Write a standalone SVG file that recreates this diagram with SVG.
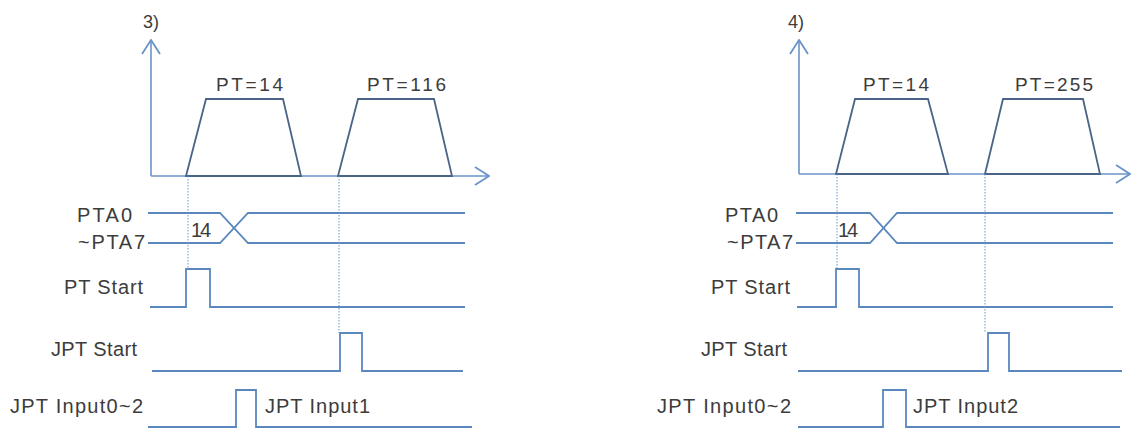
<svg xmlns="http://www.w3.org/2000/svg" width="1131" height="430" viewBox="0 0 1131 430">
<style>
text{font-family:"Liberation Sans",Arial,sans-serif;fill:#3c3c3c}
.lbl{font-size:20px}
.pt{font-size:19px}
.num{font-size:18px}
.sig{fill:none;stroke:#5b87bf;stroke-width:1.8}
.ax{fill:none;stroke:#6a94c8;stroke-width:1.6}
.trap{fill:none;stroke:#4a6488;stroke-width:1.8}
.dot{fill:none;stroke:#6a94c8;stroke-width:1;stroke-dasharray:1.5 1.5}
</style>
<defs>
<marker id="arr" viewBox="0 0 16 20" refX="15" refY="10" markerWidth="16" markerHeight="20" markerUnits="userSpaceOnUse" orient="auto">
<path d="M1,1 L15,10 L1,19" fill="none" stroke="#6a94c8" stroke-width="1.8"/>
</marker>
</defs>
<g id="diagram3">
<g id="axes3">
<text class="num" x="143" y="28">3)</text>
<line class="ax" x1="151" y1="176" x2="151" y2="40" marker-end="url(#arr)"/>
<line class="ax" x1="151" y1="176" x2="489" y2="176" marker-end="url(#arr)"/>
</g>
<g id="pt14-a">
<path class="trap" d="M186,176 L206,99 L283,99 L301,176 Z"/>
<text class="pt" x="216" y="91" textLength="67">PT=14</text>
</g>
<g id="pt116">
<path class="trap" d="M338,176 L358,99 L434,99 L452,176 Z"/>
<text class="pt" x="367" y="91" textLength="79">PT=116</text>
</g>
<g id="pta3">
<text class="lbl" x="77" y="222" textLength="55">PTA0</text>
<text class="lbl" x="78" y="249" textLength="67">~PTA7</text>
<text class="lbl" x="191" y="237" textLength="20">14</text>
<path class="sig" d="M148,213 L220,213 L248,243 L465,243"/>
<path class="sig" d="M148,243 L220,243 L248,213 L465,213"/>
</g>
<g id="ptstart3">
<text class="lbl" x="64" y="294" textLength="79">PT Start</text>
<path class="sig" d="M150,307 L186,307 L186,269 L210,269 L210,307 L465,307"/>
</g>
<g id="jptstart3">
<text class="lbl" x="51" y="356" textLength="86">JPT Start</text>
<path class="sig" d="M152,371 L340,371 L340,333 L362,333 L362,371 L463,371"/>
</g>
<g id="jptinput3">
<text class="lbl" x="10" y="413" textLength="133">JPT Input0~2</text>
<text class="lbl" x="265" y="413" textLength="105">JPT Input1</text>
<path class="sig" d="M148,427 L236,427 L236,390 L256,390 L256,427 L472,427"/>
</g>
</g>
<g id="diagram4">
<g id="axes4">
<text class="num" x="788" y="28">4)</text>
<line class="ax" x1="799" y1="174" x2="799" y2="40" marker-end="url(#arr)"/>
<line class="ax" x1="799" y1="174" x2="1130" y2="174" marker-end="url(#arr)"/>
</g>
<g id="pt14-b">
<path class="trap" d="M836,174 L855,99 L928,99 L948,174 Z"/>
<text class="pt" x="863" y="91" textLength="66">PT=14</text>
</g>
<g id="pt255">
<path class="trap" d="M985,174 L1003,99 L1083,99 L1100,174 Z"/>
<text class="pt" x="1015" y="91" textLength="78">PT=255</text>
</g>
<g id="pta4">
<text class="lbl" x="725" y="222" textLength="53">PTA0</text>
<text class="lbl" x="727" y="249" textLength="66">~PTA7</text>
<text class="lbl" x="838" y="237" textLength="20">14</text>
<path class="sig" d="M796,213 L870,213 L897,243 L1113,243"/>
<path class="sig" d="M796,243 L870,243 L897,213 L1113,213"/>
</g>
<g id="ptstart4">
<text class="lbl" x="711" y="294" textLength="79">PT Start</text>
<path class="sig" d="M797,307 L836,307 L836,269 L859,269 L859,307 L1113,307"/>
</g>
<g id="jptstart4">
<text class="lbl" x="701" y="356" textLength="86">JPT Start</text>
<path class="sig" d="M798,371 L988,371 L988,333 L1009,333 L1009,371 L1122,371"/>
</g>
<g id="jptinput4">
<text class="lbl" x="657" y="413" textLength="134">JPT Input0~2</text>
<text class="lbl" x="913" y="413" textLength="105">JPT Input2</text>
<path class="sig" d="M798,427 L883,427 L883,390 L906,390 L906,427 L1120,427"/>
</g>
</g>
<g id="connectors">
<line class="dot" x1="188" y1="176" x2="188" y2="269"/>
<line class="dot" x1="339" y1="176" x2="339" y2="333"/>
<line class="dot" x1="837" y1="174" x2="837" y2="269"/>
<line class="dot" x1="985" y1="174" x2="985" y2="333"/>
</g>
</svg>
